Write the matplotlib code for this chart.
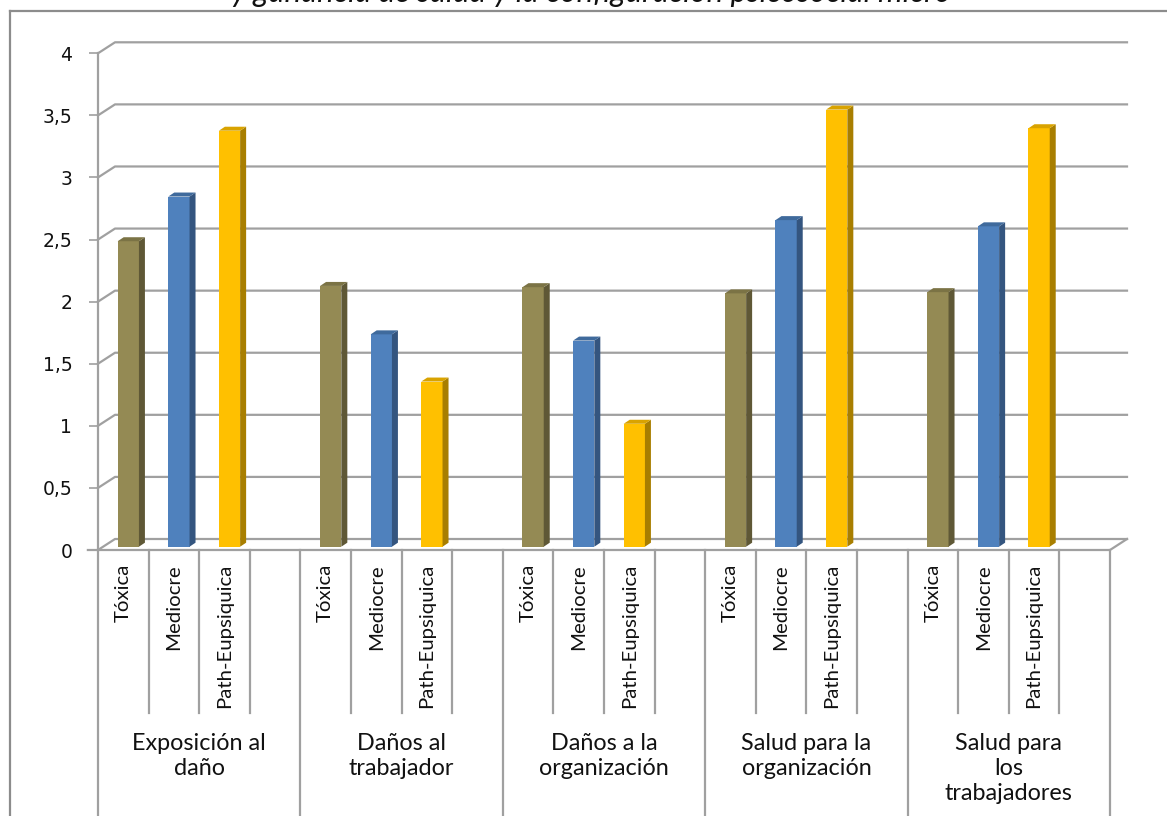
import numpy as np
import matplotlib.pyplot as plt
from matplotlib.patches import Polygon

# data
categorias = ["Exposición al\ndaño", "Daños al\ntrabajador", "Daños a la\norganización",
              "Salud para la\norganización", "Salud para\nlos\ntrabajadores"]
series = ["Tóxica", "Mediocre", "Path-Eupsiquica"]
toxica = [2.46, 2.10, 2.09, 2.04, 2.05]
mediocre = [2.82, 1.71, 1.66, 2.63, 2.58]
path_eupsiquica = [3.35, 1.33, 0.99, 3.52, 3.37]
yticks = [0, 0.5, 1, 1.5, 2, 2.5, 3, 3.5, 4]
ytick_labels = ["0", "0,5", "1", "1,5", "2", "2,5", "3", "3,5", "4"]
titulo = "y ganancia de salud y la configuración psicosocial micro"

valores = [toxica, mediocre, path_eupsiquica]
front = ["#948A54", "#4F81BD", "#FFC000"]
side = ["#5F5836", "#34557F", "#A87E00"]
top = ["#7B7345", "#3F6A9C", "#D9A300"]

GRID = "#A0A0A0"
FONT = "Lato"
INK = "#111111"

W, H = 1167, 816
fig = plt.figure(figsize=(W / 100, H / 100), dpi=100)
x0, x1, y0, y1 = 98, 1110, 550, 53.3
ax = fig.add_axes([x0 / W, 1 - y0 / H, (x1 - x0) / W, (y0 - y1) / H])
nslot = 4 * len(categorias)
ax.set_xlim(0, nslot)
ax.set_ylim(0, 4)

# pixel -> data helpers for the pseudo 3D depth
sx = (x1 - x0) / nslot
sy = (y0 - y1) / 4
wall_dx, wall_dy = 17 / sx, 11 / sy
bar_dx, bar_dy = 5 / sx, 3.3 / sy
dep_dx, dep_dy = 6 / sx, 4 / sy

# back wall gridlines with the diagonal to the front axis
for v in yticks:
    ax.plot([0, wall_dx, nslot + wall_dx], [v, v + wall_dy, v + wall_dy],
            color=GRID, lw=1.6, clip_on=False, zorder=1)
# floor
ax.plot([-0.2, nslot, nslot + wall_dx], [0, 0, wall_dy], color=GRID, lw=1.6,
        clip_on=False, zorder=1)

# bars
width = 0.42
for i, vals in enumerate(valores):
    xs = np.arange(len(categorias)) * 4 + i + 0.5 + bar_dx
    ax.bar(xs, vals, width=width, bottom=bar_dy, color=front[i], zorder=3)
    for xc, v in zip(xs, vals):
        xl, xr, t = xc - width / 2, xc + width / 2, v + bar_dy
        ax.add_patch(Polygon([(xr, bar_dy), (xr + dep_dx, bar_dy + dep_dy),
                              (xr + dep_dx, t + dep_dy), (xr, t)],
                             closed=True, color=side[i], lw=0, zorder=3))
        ax.add_patch(Polygon([(xl, t), (xr, t), (xr + dep_dx, t + dep_dy),
                              (xl + dep_dx, t + dep_dy)],
                             closed=True, color=top[i], lw=0, zorder=3))

# y axis
for s in ["top", "right", "bottom"]:
    ax.spines[s].set_visible(False)
ax.spines["left"].set_color(GRID)
ax.spines["left"].set_linewidth(1.6)
ax.set_yticks(yticks)
ax.set_yticklabels(ytick_labels, fontsize=13.5, family="DejaVu Sans", color=INK)
ax.tick_params(axis="y", direction="out", length=6.5, width=1.2, color=GRID, pad=12)
ax.set_xticks([])

# multi level category axis below the floor
ah = y0 - y1
fy = lambda py: (y0 - py) / ah
trans = ax.get_xaxis_transform()
for g in range(len(categorias) + 1):
    ax.plot([4 * g, 4 * g], [0, fy(H + 5)], color=GRID, lw=1.6, transform=trans, clip_on=False)
for g, cat in enumerate(categorias):
    for k in range(1, 4):
        ax.plot([4 * g + k, 4 * g + k], [0, fy(713)], color=GRID, lw=1.6,
                transform=trans, clip_on=False)
    for i, name in enumerate(series):
        ax.text(4 * g + i + 0.5, fy(564), name, rotation=90, ha="center", va="top",
                fontsize=14.7, family=FONT, color=INK, transform=trans)
    ax.text(4 * g + 2, fy(733), cat, ha="center", va="top", fontsize=16.8,
            family=FONT, color=INK, linespacing=1.25, transform=trans)

# chart frame and clipped title
fig.add_artist(plt.Line2D([10 / W, 10 / W], [0, 1 - 11 / H], color="#8C8C8C", lw=1.6))
fig.add_artist(plt.Line2D([10 / W, 1], [1 - 11 / H, 1 - 11 / H], color="#8C8C8C", lw=1.6))
fig.text(591 / W, 1 - 2 / H, titulo, ha="center", va="baseline", fontsize=22.5,
         family=FONT, style="italic", color=INK)

fig.savefig("out.png", dpi=100)
